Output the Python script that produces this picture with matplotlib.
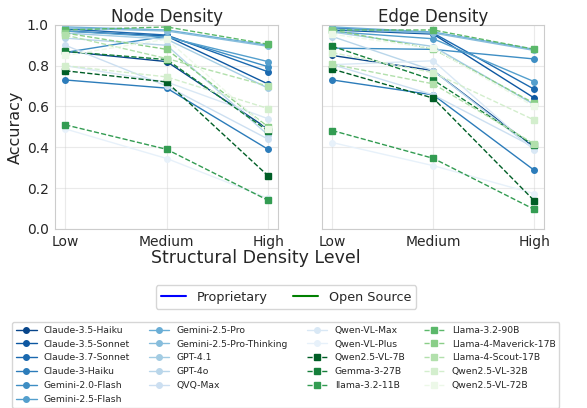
import numpy as np
import matplotlib
matplotlib.use("Agg")
import matplotlib.pyplot as plt
import seaborn as sns
from matplotlib.lines import Line2D

levels = ["Low", "Medium", "High"]

proprietary = ["Claude-3.5-Haiku", "Claude-3.5-Sonnet", "Claude-3.7-Sonnet", "Claude-3-Haiku",
               "Gemini-2.0-Flash", "Gemini-2.5-Flash", "Gemini-2.5-Pro", "Gemini-2.5-Pro-Thinking",
               "GPT-4.1", "GPT-4o", "QVQ-Max", "Qwen-VL-Max", "Qwen-VL-Plus"]
open_source = ["Qwen2.5-VL-7B", "Gemma-3-27B", "llama-3.2-11B", "Llama-3.2-90B",
               "Llama-4-Maverick-17B", "Llama-4-Scout-17B", "Qwen2.5-VL-32B", "Qwen2.5-VL-72B"]

# accuracy per model at Low / Medium / High
node_prop = [
    [0.87, 0.82, 0.49],
    [0.97, 0.945, 0.71],
    [0.98, 0.95, 0.77],
    [0.73, 0.69, 0.39],
    [0.865, 0.945, 0.795],
    [0.97, 0.94, 0.82],
    [0.99, 0.975, 0.90],
    [0.985, 0.97, 0.895],
    [0.96, 0.93, 0.69],
    [0.935, 0.90, 0.46],
    [0.90, 0.70, 0.44],
    [0.80, 0.72, 0.54],
    [0.49, 0.345, 0.15],
]
node_open = [
    [0.775, 0.72, 0.26],
    [0.87, 0.83, 0.48],
    [0.51, 0.39, 0.14],
    [0.975, 0.99, 0.905],
    [0.96, 0.88, 0.50],
    [0.95, 0.835, 0.70],
    [0.80, 0.745, 0.59],
    [0.85, 0.93, 0.49],
]
edge_prop = [
    [0.85, 0.776, 0.40],
    [0.975, 0.955, 0.642],
    [0.985, 0.96, 0.685],
    [0.73, 0.657, 0.288],
    [0.886, 0.88, 0.833],
    [0.967, 0.932, 0.722],
    [0.99, 0.965, 0.88],
    [0.98, 0.96, 0.875],
    [0.965, 0.894, 0.61],
    [0.943, 0.776, 0.39],
    [0.805, 0.657, 0.40],
    [0.805, 0.824, 0.387],
    [0.423, 0.31, 0.173],
]
edge_open = [
    [0.783, 0.641, 0.139],
    [0.895, 0.73, 0.41],
    [0.482, 0.346, 0.096],
    [0.975, 0.975, 0.881],
    [0.975, 0.882, 0.616],
    [0.807, 0.711, 0.417],
    [0.864, 0.766, 0.534],
    [0.954, 0.885, 0.60],
]

sns.set_style("whitegrid")
plt.rcParams["font.family"] = ["DejaVu Sans"]

blues = plt.cm.Blues(np.linspace(0.92, 0.08, len(proprietary)))
greens = plt.cm.Greens(np.linspace(0.92, 0.08, len(open_source)))

fig = plt.figure(figsize=(5.87, 4.08), dpi=100)
ax1 = fig.add_axes([0.094, 0.439, 0.380, 0.500])
ax2 = fig.add_axes([0.549, 0.439, 0.378, 0.500], sharey=ax1)

x = np.arange(len(levels))
panels = [(ax1, "Node Density", node_prop, node_open),
          (ax2, "Edge Density", edge_prop, edge_open)]
for ax, title, prop, opn in panels:
    for name, vals, c in zip(proprietary, prop, blues):
        ax.plot(x, vals, "-o", color=c, lw=1, ms=4, label=name)
    for name, vals, c in zip(open_source, opn, greens):
        ax.plot(x, vals, "--s", color=c, lw=1, ms=4, label=name)
    ax.set_title(title, fontsize=12, pad=2)
    ax.set_xticks(x)
    ax.set_xticklabels(levels)
    ax.set_xlim(-0.1, 2.1)
    ax.set_ylim(0, 1.0)
    ax.tick_params(labelsize=10, pad=1)
    ax.grid(alpha=0.4)

ax1.set_ylabel("Accuracy", fontsize=11.5, labelpad=3)
plt.setp(ax2.get_yticklabels(), visible=False)
fig.text(0.435, 0.367, "Structural Density Level", ha="center", va="center", fontsize=12.5)

type_handles = [Line2D([], [], color="blue", lw=1.5), Line2D([], [], color="green", lw=1.5)]
fig.legend(type_handles, ["Proprietary", "Open Source"], loc="center",
           bbox_to_anchor=(0.487, 0.272), ncol=2, fontsize=9.2, frameon=True)

handles, labels = ax1.get_legend_handles_labels()
fig.legend(handles, labels, loc="upper center", bbox_to_anchor=(0.487, 0.222),
           ncol=4, fontsize=6.7, frameon=True, handlelength=2.2,
           labelspacing=0.52, columnspacing=2.0)

fig.savefig("out.png", dpi=100)
